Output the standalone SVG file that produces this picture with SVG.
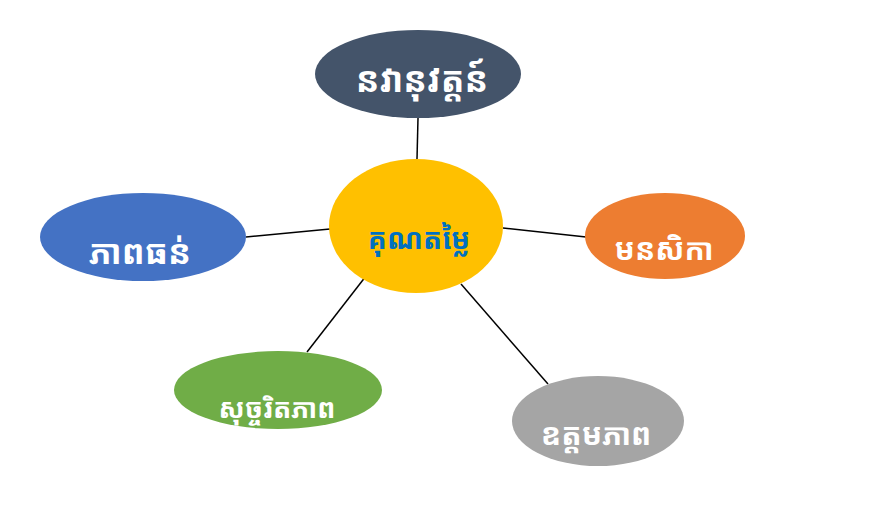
<svg xmlns="http://www.w3.org/2000/svg" width="883" height="508" viewBox="0 0 883 508">
<style>
.lbl{font-family:"Noto Sans Khmer","Khmer OS","Noto Sans","DejaVu Sans",sans-serif;font-weight:bold;font-size:26px;text-anchor:middle;fill:#FFFFFF}
.ctr{fill:#0070C0}
.conn line{stroke:#000000;stroke-width:1.5}
</style>
<rect width="883" height="508" fill="#FFFFFF"/>
<g id="connectors" class="conn">
<line x1="418" y1="118" x2="417" y2="159"/>
<line x1="246" y1="237" x2="330" y2="229"/>
<line x1="503" y1="228" x2="586" y2="237"/>
<line x1="307" y1="352" x2="366" y2="276"/>
<line x1="461" y1="284" x2="548" y2="384"/>
</g>
<g id="node-top">
<ellipse cx="418" cy="74" rx="103" ry="44" fill="#44546A"/>
<text class="lbl" x="422" y="92" style="font-size:35px">នវានុវត្តន៍</text>
</g>
<g id="node-center">
<ellipse cx="416" cy="226" rx="87" ry="67" fill="#FFC000"/>
<text class="lbl ctr" x="419" y="249" style="font-size:28px">គុណតម្លៃ</text>
</g>
<g id="node-left">
<ellipse cx="143" cy="237" rx="103" ry="44" fill="#4472C4"/>
<text class="lbl" x="140" y="264" style="font-size:34px">ភាពធន់</text>
</g>
<g id="node-right">
<ellipse cx="665" cy="236" rx="80" ry="43" fill="#ED7D31"/>
<text class="lbl" x="664" y="260" style="font-size:30px">មនសិកា</text>
</g>
<g id="node-bottom-left">
<ellipse cx="278" cy="390" rx="104" ry="39" fill="#70AD47"/>
<text class="lbl" x="277" y="418" style="font-size:27px">សុច្ចរិតភាព</text>
</g>
<g id="node-bottom-right">
<ellipse cx="598" cy="421" rx="86" ry="45" fill="#A5A5A5"/>
<text class="lbl" x="596" y="445" style="font-size:30px">ឧត្តមភាព</text>
</g>
</svg>
